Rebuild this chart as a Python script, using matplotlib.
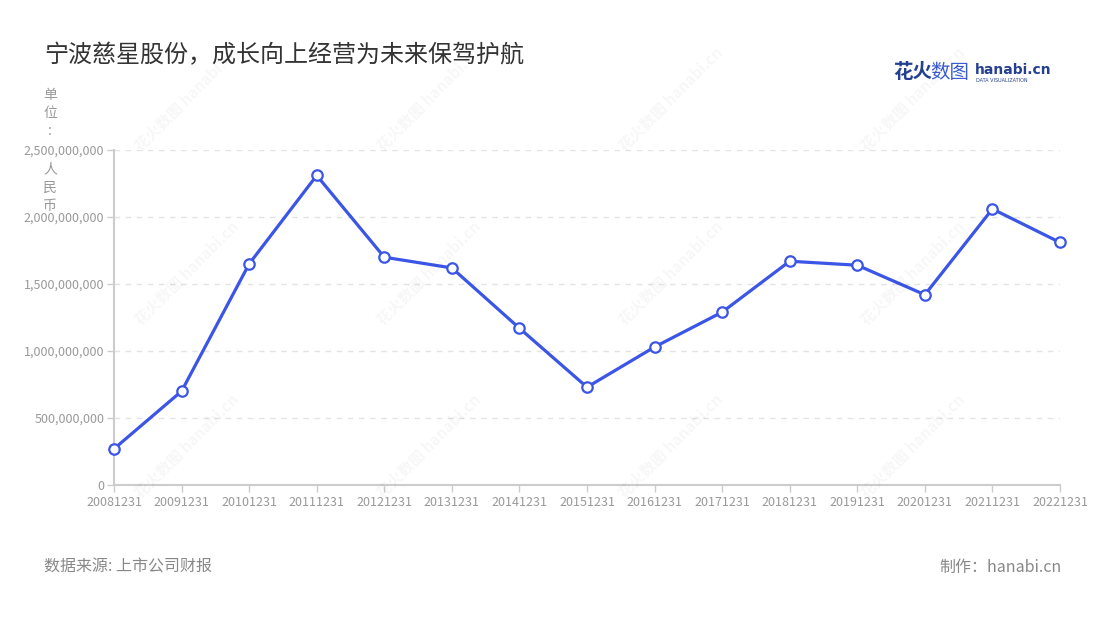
"""宁波慈星 — 净利润走势折线图（花火数图风格）"""
import numpy as np
import matplotlib
matplotlib.use("Agg")
import matplotlib.pyplot as plt
from matplotlib.ticker import FuncFormatter

plt.rcParams['font.family'] = ['Noto Sans CJK SC', 'DejaVu Sans']

dates = ["20081231", "20091231", "20101231", "20111231", "20121231",
         "20131231", "20141231", "20151231", "20161231", "20171231",
         "20181231", "20191231", "20201231", "20211231", "20221231"]
values = [0.27e9, 0.70e9, 1.65e9, 2.31e9, 1.70e9,
          1.62e9, 1.17e9, 0.73e9, 1.03e9, 1.29e9,
          1.67e9, 1.64e9, 1.42e9, 2.06e9, 1.81e9]
yticks = [0, 5e8, 1e9, 1.5e9, 2e9, 2.5e9]

BLUE = "#3b55e6"
GREY = "#999999"
AXIS = "#cccccc"

fig = plt.figure(figsize=(11, 6.2), dpi=100)
ax = fig.add_axes([114/1100, 1 - 485/620, (1060 - 114)/1100, (485 - 150)/620])

x = np.arange(len(dates))
ax.plot(x, values, color=BLUE, lw=2.3, zorder=3, clip_on=False,
        marker="o", ms=7.5, mfc="white", mec=BLUE, mew=1.6)

ax.set_xlim(0, len(dates) - 1)
ax.set_ylim(0, 2.5e9)
ax.set_xticks(x)
ax.set_xticklabels(dates)
ax.set_yticks(yticks)
ax.yaxis.set_major_formatter(FuncFormatter(lambda v, _: f"{int(v):,}"))

ax.grid(axis="y", ls=(0, (4, 4)), color="#e3e3e3", lw=1)
ax.set_axisbelow(True)
for s in ["top", "right"]:
    ax.spines[s].set_visible(False)
for s in ["left", "bottom"]:
    ax.spines[s].set_color(AXIS)
    ax.spines[s].set_linewidth(1.5)
ax.tick_params(axis="both", colors=AXIS, labelcolor=GREY, labelsize=9,
               length=5, width=1)
ax.tick_params(axis="x", pad=3)
ax.tick_params(axis="y", pad=2)

# 水印
for wx in [0.17, 0.39, 0.61, 0.83]:
    for wy in [0.84, 0.56, 0.28]:
        fig.text(wx, wy, "花火数图 hanabi.cn", rotation=45, fontsize=11,
                 color="#000000", alpha=0.035, ha="center", va="center",
                 fontweight="bold")

# 标题、单位（上下两段，避开刻度标签）、logo、脚注
fig.text(44/1100, 1 - 55/620, "宁波慈星股份，成长向上经营为未来保驾护航",
         fontsize=17.3, color="#333333", va="center")
fig.text(50/1100, 1 - 113/620, "单\n位\n:", fontsize=10,
         color=GREY, ha="center", va="center", linespacing=1.4)
fig.text(50/1100, 1 - 188/620, "人\n民\n币", fontsize=10,
         color=GREY, ha="center", va="center", linespacing=1.4)
fig.text(893/1100, 1 - 73/620, "花火", fontsize=14, color="#24408e",
         fontweight="bold", va="center")
fig.text(930/1100, 1 - 73/620, "数图", fontsize=14, color="#3a5bd0",
         va="center")
fig.text(975/1100, 1 - 70/620, "hanabi.cn", fontsize=10, color="#24408e",
         fontweight="bold", va="center", family="DejaVu Sans")
fig.text(976/1100, 1 - 80/620, "DATA VISUALIZATION", fontsize=3.5,
         color="#24408e", va="center", family="DejaVu Sans")
fig.text(44/1100, 1 - 567/620, "数据来源: 上市公司财报", fontsize=11.5,
         color="#888888", va="center")
fig.text(1062/1100, 1 - 567/620, "制作：hanabi.cn", fontsize=11.5,
         color="#888888", va="center", ha="right")

fig.savefig("out.png", dpi=100, facecolor="white")
